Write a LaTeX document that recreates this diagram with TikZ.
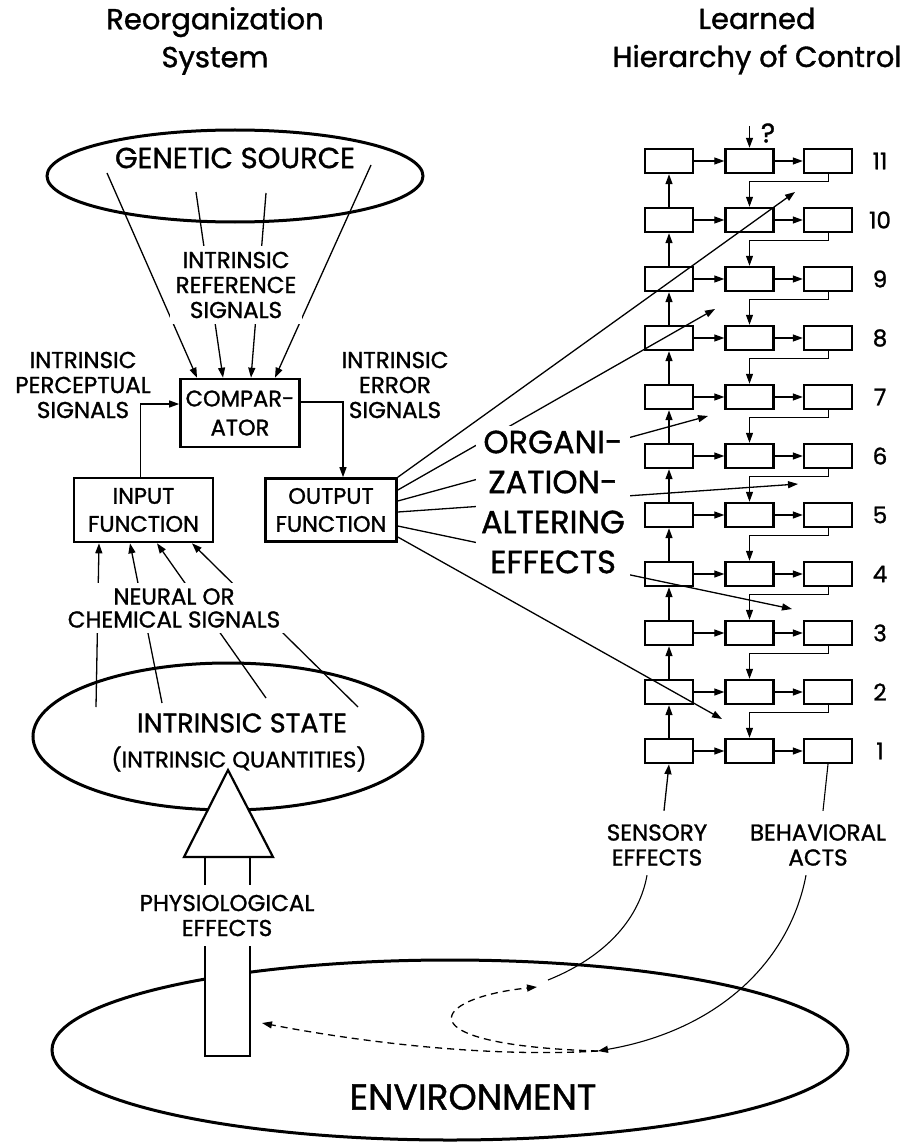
\documentclass[tikz,border=0pt]{standalone}
\usepackage{fontspec}
\setmainfont{Poppins}[UprightFeatures={FakeBold=1.2}]
\usepackage{tikz}
\usetikzlibrary{arrows.meta}
\usetikzlibrary{shapes.geometric}

\begin{document}
\begin{tikzpicture}[x=1pt, y=-1pt,
  >={Triangle[length=10pt,width=7pt]},
  title/.style={align=center, font=\fontsize{29}{38}\selectfont},
  lbl/.style={align=center, font=\fontsize{23}{25}\selectfont},
  big/.style={align=center, font=\fontsize{32}{40}\selectfont},
  fn/.style={draw, line width=2.6pt, align=center, inner sep=0pt, font=\fontsize{22.5}{28}\selectfont},
  oval/.style={draw, ellipse, line width=3pt, inner sep=0pt},
  cell/.style={draw, line width=2.4pt, minimum width=48pt, minimum height=24pt, inner sep=0pt},
  sig/.style={->, line width=1.3pt},
  feed/.style={line width=1.1pt},
  envlink/.style={->, line width=1.3pt, dash pattern=on 7pt off 5pt}]
\useasboundingbox (0,0) rectangle (915,1142);

% titles
\node[title] (tleft) at (215,41) {Reorganization\\System};
\node[title] (tright) at (757,41) {Learned\\Hierarchy of Control};

% reorganization system
\node[oval, minimum width=376pt, minimum height=92pt] (gen) at (235,176) {};
\node[font=\fontsize{29}{32}\selectfont] (gentext) at (235,158) {GENETIC SOURCE};
\node[fn, minimum width=119pt, minimum height=68pt, font=\fontsize{22.5}{29}\selectfont] (comp) at (240,413) {COMPAR-\\ATOR};
\node[fn, minimum width=139pt, minimum height=64pt] (inp) at (143.5,510) {INPUT\\FUNCTION};
\node[fn, minimum width=131pt, minimum height=63pt] (outp) at (331,510) {OUTPUT\\FUNCTION};

\coordinate (g1) at (107,173);
\coordinate (g2) at (196,192);
\coordinate (g3) at (266,193);
\coordinate (g4) at (371,165);
\draw[sig] (g1) -- ([xshift=-43pt]comp.north);
\draw[sig] (g2) -- ([xshift=-17pt]comp.north);
\draw[sig] (g3) -- ([xshift=11pt]comp.north);
\draw[sig] (g4) -- ([xshift=35pt]comp.north);
\node[lbl, fill=white, inner sep=6pt] (refsig) at (236,285) {INTRINSIC\\REFERENCE\\SIGNALS};

\node[lbl] (percept) at (83,385) {INTRINSIC\\PERCEPTUAL\\SIGNALS};
\node[lbl] (errsig) at (395,385) {INTRINSIC\\ERROR\\SIGNALS};
\draw[sig] ([xshift=-3pt]inp.north) |- ([yshift=9pt]comp.west);
\draw[sig] ([yshift=11pt]comp.east) -| ([xshift=12pt]outp.north);

% intrinsic state
\node[oval, minimum width=390pt, minimum height=147pt] (state) at (228,736.5) {};
\node[font=\fontsize{27}{30}\selectfont] (statetext) at (242,723) {INTRINSIC STATE};
\node[font=\fontsize{22.5}{25}\selectfont] (quant) at (239,759) {(INTRINSIC QUANTITIES)};

\coordinate (n1) at (96,707);
\coordinate (n2) at (162,703);
\coordinate (n3) at (266,698);
\coordinate (n4) at (358,707);
\draw[sig] (n1) -- ([xshift=-44.5pt]inp.south);
\draw[sig] (n2) -- ([xshift=-13.5pt]inp.south);
\draw[sig] (n3) -- ([xshift=13.5pt]inp.south);
\draw[sig] (n4) -- ([xshift=48.5pt]inp.south);
\node[lbl, fill=white, inner sep=5pt, font=\fontsize{23}{23}\selectfont] (neural) at (174,608) {NEURAL OR\\CHEMICAL SIGNALS};

% environment and physiological effects
\node[oval, minimum width=796pt, minimum height=180pt] (env) at (450,1050) {};
\node[font=\fontsize{36}{40}\selectfont] (envtext) at (473,1097) {ENVIRONMENT};
\filldraw[fill=white, line width=2.2pt] (205,857) -- (205,1056) -- (250,1056) -- (250,857);
\filldraw[fill=white, line width=2.2pt] (228,770) -- (273,857) -- (184,857) -- cycle;
\node[lbl, fill=white, inner xsep=4pt, inner ysep=10pt] (phys) at (227,915.5) {PHYSIOLOGICAL\\EFFECTS};

% learned hierarchy
\foreach \r in {1,...,11} {
  \pgfmathsetmacro\yy{161+(11-\r)*59}
  \node[cell] (c\r-1) at (669,\yy) {};
  \node[cell] (c\r-2) at (749.5,\yy) {};
  \node[cell] (c\r-3) at (828,\yy) {};
  \node[lbl] (lev\r) at (880,\yy) {\r};
  \draw[sig] (c\r-1) -- (c\r-2);
  \draw[sig] (c\r-2) -- (c\r-3);
}
\foreach \r [evaluate=\r as \u using int(\r+1)] in {1,...,10} {
  \draw[sig] (c\r-1) -- (c\u-1);
  \draw[sig, line width=1pt] (c\u-3.south) -- ++(0,7) -| (c\r-2.north);
}
\coordinate (q) at (749.5,126);
\draw[sig] (q) -- (c11-2.north);
\node[font=\fontsize{27}{30}\selectfont] (qmark) at (768,133) {?};

% organization-altering effects
\coordinate (o1) at (795,192);
\coordinate (o2) at (715,309);
\coordinate (o3) at (708,416);
\coordinate (o4) at (798,484);
\coordinate (o5) at (792,609);
\coordinate (o6) at (722,719);
\draw[sig] (outp.north east) -- (o1);
\draw[sig] ([yshift=20pt]outp.east) -- (o2);
\draw[sig] ([yshift=9pt]outp.east) -- (o3);
\draw[sig] ([yshift=-2pt]outp.east) -- (o4);
\draw[sig] ([yshift=-16pt]outp.east) -- (o5);
\draw[sig] ([yshift=-27pt]outp.east) -- (o6);
\node[big, fill=white, inner xsep=5pt, inner ysep=5pt] (org) at (553,502) {ORGANI-\\ZATION-\\ALTERING\\EFFECTS};

% sensory effects and behavioral acts
\node[lbl] (sens) at (657,845) {SENSORY\\EFFECTS};
\node[lbl] (beh) at (818,845) {BEHAVIORAL\\ACTS};
\draw[sig] ([xshift=7pt,yshift=10pt]sens.north) -- (c1-1.south);
\draw[feed] ([xshift=5pt,yshift=10pt]beh.north) -- (c1-3.south);

\coordinate (act) at (598,1051);
\coordinate (sin) at (537,987);
\coordinate (send) at (548,980);
\coordinate (stemin) at (262,1023);
\draw[feed] ([xshift=-10pt,yshift=-6pt]sens.south) .. controls (640,915) and (610,955) .. (send);
\draw[sig, line width=1.1pt] ([xshift=-12pt,yshift=-6pt]beh.south) .. controls (790,960) and (720,1030) .. (act);
\draw[envlink] (act) .. controls (480,1058) and (350,1040) .. (stemin);
\draw[envlink] (act) .. controls (400,1045) and (430,998) .. (sin);
\end{tikzpicture}
\end{document}
